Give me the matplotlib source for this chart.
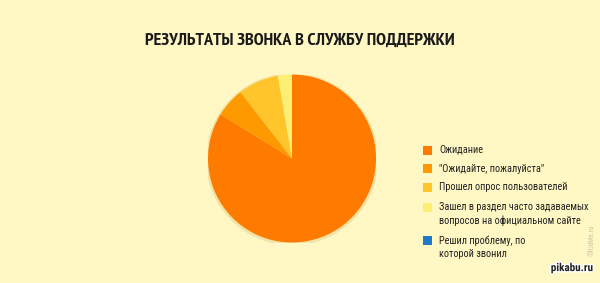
import matplotlib.pyplot as plt
import matplotlib.patheffects as pe
from matplotlib.patches import Rectangle, Circle

title = 'РЕЗУЛЬТАТЫ ЗВОНКА В СЛУЖБУ ПОДДЕРЖКИ'
labels = ['Ожидание',
          '"Ожидайте, пожалуйста"',
          'Прошел опрос пользователей',
          'Зашел в раздел часто задаваемых\nвопросов на официальном сайте',
          'Решил проблему, по\nкоторой звонил']
values = [83.8, 5.7, 7.8, 2.7, 0.0]
colors = ['#ff7b00', '#ff9900', '#ffc52a', '#fcef74', '#1f78c8']

W, H = 600, 283
bg = '#fff8c4'
font = 'Roboto Condensed'
fig = plt.figure(figsize=(W / 100, H / 100), dpi=100, facecolor=bg)

fig.text(0.5, 1 - 41 / H, title, ha='center', va='center', fontsize=13,
         family='PT Sans Narrow', weight='bold', color='#1a1a1a')

# pie: centre about (292, 158) px, radius about 84 px
cx, cy, r = 292, 158.5, 84
ax = fig.add_axes([(cx - r) / W, 1 - (cy + r) / H, 2 * r / W, 2 * r / H])
ax.set_facecolor(bg)
ax.add_patch(Circle((0.0, -0.01), 1.025, facecolor='#f2e3a6', edgecolor='none', zorder=0))
ax.pie(values, colors=colors, startangle=90, counterclock=False,
       wedgeprops=dict(linewidth=0, zorder=1))
ax.set_xlim(-1, 1)
ax.set_ylim(-1, 1)
ax.set_aspect('equal')
ax.axis('off')

# legend, drawn by hand in pixel positions
rows_y = [150, 168.5, 187.5, 207.5, 240.5]
for c, lab, y in zip(colors, labels, rows_y):
    fig.patches.append(Rectangle((423 / W, 1 - (y + 4.5) / H), 9 / W, 9 / H,
                                 transform=fig.transFigure, facecolor=c,
                                 edgecolor='none'))
    fig.text(439 / W, 1 - (y - 5) / H, lab, ha='left', va='top', fontsize=7.4,
             family=font, color='#222222', linespacing=1.4)

fig.text(0.988, 0.035, 'pikabu.ru', ha='right', va='bottom', fontsize=8,
         weight='bold', family=font, color='#222222',
         path_effects=[pe.withStroke(linewidth=2, foreground='white')])
fig.text(592 / W, 1 - 240 / H, '©fUdMe.ru', rotation=90, ha='center', va='center',
         fontsize=5, family=font, color='#c9c3a4')

fig.savefig('out.png', dpi=100, facecolor=bg)
